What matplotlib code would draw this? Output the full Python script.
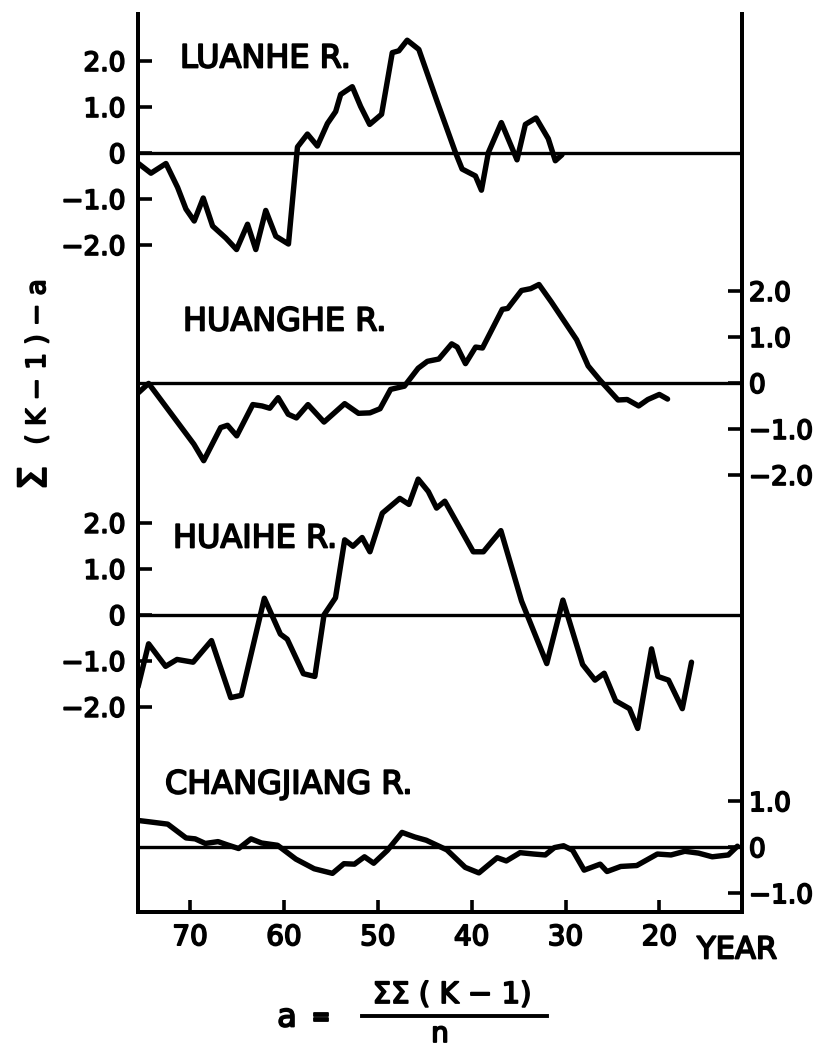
import numpy as np
import matplotlib.pyplot as plt
import matplotlib.patheffects as pe
from matplotlib.lines import Line2D

plt.rcParams['font.family'] = ['DejaVu Sans']

# Cumulative departure series, years counted back (19xx), values in units of Cv
luanhe_years = [75.5, 74.17, 72.57, 71.33, 70.44, 69.56, 68.60, 67.60, 66.19, 65.05,
                63.88, 63.0, 61.94, 60.87, 59.52, 58.56, 57.50, 56.44, 55.37, 54.49,
                53.96, 52.72, 51.83, 50.87, 49.6, 48.46, 47.76, 46.87, 45.63, 43.67,
                41.73, 41.02, 39.60, 38.96, 38.22, 36.84, 35.17, 34.28, 33.14, 31.84,
                31.09, 30.38]
luanhe_vals = [-0.23, -0.44, -0.23, -0.75, -1.22, -1.48, -0.98, -1.59, -1.85, -2.10,
               -1.55, -2.10, -1.25, -1.81, -1.98, 0.13, 0.41, 0.15, 0.64, 0.90,
               1.27, 1.44, 1.01, 0.62, 0.84, 2.18, 2.22, 2.45, 2.25, 1.11,
               0.01, -0.35, -0.50, -0.81, 0.01, 0.66, -0.15, 0.62, 0.76, 0.31,
               -0.17, -0.04]

huanghe_years = [75.55, 74.42, 69.6, 68.55, 66.74, 66.01, 65.03, 63.32, 62.34, 61.51,
                 60.62, 59.55, 58.67, 57.44, 55.73, 53.53, 52.06, 50.84, 49.76, 48.64,
                 47.17, 45.70, 44.72, 43.50, 42.13, 41.54, 40.66, 39.58, 38.85, 36.74,
                 36.16, 34.69, 33.71, 32.83, 31.51, 28.82, 27.59, 26.37, 24.41, 23.43,
                 22.21, 21.23, 20.01, 19.13]
huanghe_vals = [-0.22, -0.01, -1.33, -1.69, -0.97, -0.92, -1.15, -0.47, -0.50, -0.55,
                -0.32, -0.68, -0.76, -0.47, -0.85, -0.45, -0.66, -0.65, -0.56, -0.14,
                -0.07, 0.32, 0.47, 0.52, 0.85, 0.78, 0.42, 0.78, 0.76, 1.60,
                1.62, 2.01, 2.05, 2.14, 1.76, 0.94, 0.37, 0.07, -0.37, -0.36,
                -0.50, -0.36, -0.25, -0.35]

huaihe_years = [75.55, 74.42, 72.61, 71.39, 69.68, 67.72, 65.67, 64.54, 62.09, 60.38,
                59.65, 57.93, 56.71, 55.73, 54.51, 53.53, 52.65, 51.67, 50.84, 49.52,
                47.66, 46.68, 45.70, 44.62, 43.74, 42.86, 39.83, 38.75, 36.89, 34.69,
                32.00, 30.28, 28.18, 26.86, 25.88, 24.66, 23.19, 22.31, 20.84, 20.16,
                19.03, 17.56, 16.58]
huaihe_vals = [-1.57, -0.63, -1.12, -0.97, -1.03, -0.56, -1.80, -1.75, 0.36, -0.42,
               -0.53, -1.28, -1.34, 0.0, 0.37, 1.63, 1.49, 1.68, 1.37, 2.21,
               2.53, 2.40, 2.95, 2.68, 2.32, 2.47, 1.37, 1.37, 1.83, 0.30,
               -1.06, 0.32, -1.08, -1.42, -1.27, -1.87, -2.04, -2.47, -0.74, -1.34,
               -1.42, -2.04, -1.03]

changjiang_years = [75.55, 74.33, 72.38, 70.43, 69.46, 68.38, 67.02, 66.04, 64.83, 63.51,
                    62.39, 60.68, 58.73, 56.78, 54.83, 53.61, 52.49, 51.42, 50.44, 48.98,
                    47.42, 46.06, 44.84, 42.64, 40.69, 39.23, 37.28, 36.31, 34.84, 33.38,
                    32.16, 31.19, 30.21, 29.24, 28.02, 26.31, 25.58, 24.12, 22.41, 20.22,
                    18.76, 17.29, 15.83, 14.37, 12.66, 11.69]
changjiang_vals = [0.58, 0.55, 0.50, 0.20, 0.18, 0.08, 0.12, 0.05, -0.03, 0.18,
                   0.09, 0.04, -0.26, -0.47, -0.57, -0.36, -0.37, -0.21, -0.35, -0.07,
                   0.32, 0.22, 0.15, -0.06, -0.44, -0.56, -0.23, -0.30, -0.12, -0.15,
                   -0.17, -0.01, 0.03, -0.07, -0.50, -0.37, -0.53, -0.42, -0.40, -0.15,
                   -0.17, -0.09, -0.13, -0.21, -0.17, 0.02]

year_ticks = [70, 60, 50, 40, 30, 20]
ticks_big = [2.0, 1.0, 0.0, -1.0, -2.0]
ticks_small = [1.0, 0.0, -1.0]


def tick_text(v):
    if v == 0:
        return '0'
    return f'{v:.1f}'.replace('-', '\u2212')


# heavier lettering, like the hand-inked originals
ink = [pe.withStroke(linewidth=1.3, foreground='black')]

# zero line of each river in plot units (stacked panels share one frame)
off_luanhe, off_huanghe, off_huaihe, off_changjiang = 16.5, 11.5, 6.46, 1.41
W, H = 820, 1049

fig = plt.figure(figsize=(8.2, 10.49), dpi=100)
ax = fig.add_axes([138 / W, 1 - 912 / H, 604 / W, 898 / H])
ax.set_xlim(75.55, 11.2)
ax.set_ylim(0, 19.52)

for yrs, vals, off in [(luanhe_years, luanhe_vals, off_luanhe),
                       (huanghe_years, huanghe_vals, off_huanghe),
                       (huaihe_years, huaihe_vals, off_huaihe),
                       (changjiang_years, changjiang_vals, off_changjiang)]:
    ax.axhline(off, color='black', lw=2.4)
    ax.plot(yrs, np.array(vals) + off, color='black', lw=3.9,
            solid_joinstyle='round', solid_capstyle='round')

# left axis: Luanhe and Huaihe scales
left_pos = [off_luanhe + v for v in ticks_big] + [off_huaihe + v for v in ticks_big]
ax.set_yticks(left_pos)
ax.set_yticklabels([tick_text(v) for v in ticks_big] * 2)
ax.tick_params(axis='y', direction='in', length=10, width=2.6, labelsize=19, pad=9)

ax.set_xticks(year_ticks)
ax.set_xticklabels([str(y) for y in year_ticks])
ax.tick_params(axis='x', direction='in', length=9, width=2.6, labelsize=20, pad=8)

# right axis: Huanghe and Changjiang scales
ax2 = ax.twinx()
ax2.set_ylim(ax.get_ylim())
right_pos = [off_huanghe + v for v in ticks_big] + [off_changjiang + v for v in ticks_small]
ax2.set_yticks(right_pos)
ax2.set_yticklabels([tick_text(v) for v in ticks_big] + [tick_text(v) for v in ticks_small])
ax2.tick_params(axis='y', direction='in', length=10, width=2.6, labelsize=19, pad=5)

for a in (ax, ax2):
    a.spines['top'].set_visible(False)
    for s in ('left', 'right', 'bottom'):
        a.spines[s].set_linewidth(2.8)
    for lbl in a.get_xticklabels() + a.get_yticklabels():
        lbl.set_path_effects(ink)

# river names
for name, px, py in [('LUANHE R.', 180, 59), ('HUANGHE R.', 183, 322),
                     ('HUAIHE R.', 173, 539), ('CHANGJIANG R.', 165, 785)]:
    fig.text(px / W, 1 - py / H, name, ha='left', va='center', fontsize=23,
             path_effects=ink)

fig.text(697 / W, 1 - 950 / H, 'YEAR', ha='left', va='center', fontsize=22,
         path_effects=ink)

# vertical axis title
fig.text(35 / W, 1 - 478 / H, '\u03a3', rotation=90, ha='center', va='center',
         fontsize=28, path_effects=ink)
fig.text(38 / W, 1 - 362 / H, '( K \u2212 1 ) \u2212 a', rotation=90,
         ha='center', va='center', fontsize=19, path_effects=ink)

# definition of a
fig.text(287 / W, 1 - 1018 / H, 'a', ha='center', va='center', fontsize=23, path_effects=ink)
fig.text(321 / W, 1 - 1018 / H, '=', ha='center', va='center', fontsize=16,
         fontweight='bold', path_effects=ink)
fig.text(452 / W, 1 - 995 / H, '\u03a3\u03a3 ( K \u2212 1)', ha='center', va='center',
         fontsize=21, path_effects=ink)
fig.add_artist(Line2D([362 / W, 547 / W], [1 - 1016 / H] * 2, color='black', lw=2.8))
fig.text(440 / W, 1 - 1034 / H, 'n', ha='center', va='center', fontsize=20, path_effects=ink)

fig.savefig('out.png', dpi=100)
